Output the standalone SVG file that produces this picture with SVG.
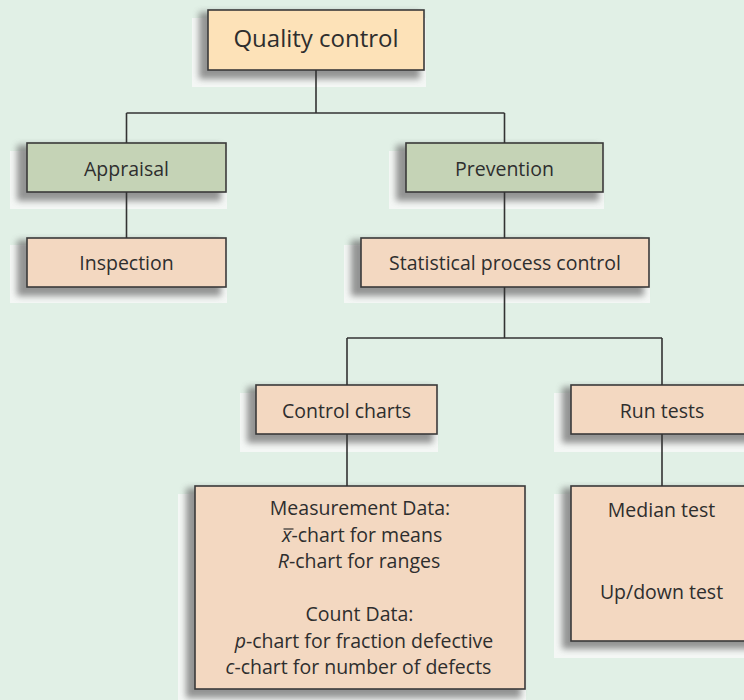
<svg xmlns="http://www.w3.org/2000/svg" width="744" height="700" viewBox="0 0 744 700">
  <defs>
    <filter id="blur" x="-20%" y="-20%" width="140%" height="140%">
      <feGaussianBlur stdDeviation="3.2"/>
    </filter>
    <style>
      .shl { fill: #f4f7f5; }
      .shd { fill: #6a6a6a; opacity: 0.7; }
      .box { stroke: #3a3a3a; stroke-width: 1.6; }
      .top { fill: #fde2b8; }
      .grn { fill: #c5d3b6; }
      .pch { fill: #f3d8c1; }
      text { font-family: "Open Sans", "Liberation Sans", sans-serif; fill: #2e2e2e; text-anchor: middle; font-size: 19.5px; }
      .big { font-size: 24px; }
      .st { text-anchor: start; }
      .it { font-style: italic; }
      .conn path { fill: none; stroke: #333; stroke-width: 1.6; }
    </style>
  </defs>
  <rect x="0" y="0" width="744" height="700" fill="#e1f0e6"/>

  <g id="quality-control">
    <rect class="shl" x="192" y="18" width="234" height="69"/>
    <rect class="shd" filter="url(#blur)" x="199" y="12" width="221" height="67"/>
    <rect class="box top" x="208" y="10" width="216" height="60"/>
    <text class="big" x="316" y="47">Quality control</text>
  </g>

  <g id="appraisal">
    <rect class="shl" x="10" y="151" width="217" height="58"/>
    <rect class="shd" filter="url(#blur)" x="17" y="145" width="204" height="56"/>
    <rect class="box grn" x="27" y="143" width="199" height="49"/>
    <text x="126.5" y="176">Appraisal</text>
  </g>

  <g id="prevention">
    <rect class="shl" x="389" y="151" width="215" height="58"/>
    <rect class="shd" filter="url(#blur)" x="396" y="145" width="203" height="56"/>
    <rect class="box grn" x="406" y="143" width="197" height="49"/>
    <text x="504.5" y="176">Prevention</text>
  </g>

  <g id="inspection">
    <rect class="shl" x="10" y="245" width="217" height="58"/>
    <rect class="shd" filter="url(#blur)" x="17" y="240" width="204" height="56"/>
    <rect class="box pch" x="27" y="238" width="199" height="49"/>
    <text x="126.5" y="270">Inspection</text>
  </g>

  <g id="statistical-process-control">
    <rect class="shl" x="344" y="245" width="306" height="58"/>
    <rect class="shd" filter="url(#blur)" x="351" y="240" width="293" height="56"/>
    <rect class="box pch" x="361" y="238" width="288" height="49"/>
    <text x="505" y="270">Statistical process control</text>
  </g>

  <g id="control-charts">
    <rect class="shl" x="240" y="393" width="198" height="59"/>
    <rect class="shd" filter="url(#blur)" x="247" y="387" width="186" height="56"/>
    <rect class="box pch" x="256" y="385" width="181" height="49"/>
    <text x="346.5" y="418">Control charts</text>
  </g>

  <g id="run-tests">
    <rect class="shl" x="554" y="393" width="210" height="59"/>
    <rect class="shd" filter="url(#blur)" x="562" y="387" width="201" height="56"/>
    <rect class="box pch" x="571" y="385" width="182" height="49"/>
    <text x="662" y="418">Run tests</text>
  </g>

  <g id="measurement">
    <rect class="shl" x="178" y="494" width="348" height="212"/>
    <rect class="shd" filter="url(#blur)" x="186" y="488" width="335" height="210"/>
    <rect class="box pch" x="195" y="486" width="330" height="203"/>
    <text x="360" y="515">Measurement Data:</text>
    <text class="st" x="282" y="541.5"><tspan class="it">x</tspan>-chart for means</text>
    <line x1="283.5" y1="529" x2="293.5" y2="529" stroke="#2e2e2e" stroke-width="1.2"/>
    <text x="359" y="568"><tspan class="it">R</tspan>-chart for ranges</text>
    <text x="359.5" y="621">Count Data:</text>
    <text x="364" y="647.5"><tspan class="it">p</tspan>-chart for fraction defective</text>
    <text x="358.5" y="674"><tspan class="it">c</tspan>-chart for number of defects</text>
  </g>

  <g id="median-updown">
    <rect class="shl" x="554" y="494" width="210" height="164"/>
    <rect class="shd" filter="url(#blur)" x="562" y="488" width="201" height="161"/>
    <rect class="box pch" x="571" y="486" width="182" height="155"/>
    <text x="661.5" y="517">Median test</text>
    <text x="661.5" y="599">Up/down test</text>
  </g>

  <g id="connectors" class="conn">
    <path d="M316 70 V113"/>
    <path d="M126.5 113 H504.5"/>
    <path d="M126.5 113 V143"/>
    <path d="M504.5 113 V143"/>
    <path d="M126.5 192 V238"/>
    <path d="M504.5 192 V238"/>
    <path d="M504.5 287 V338"/>
    <path d="M347 338 H662"/>
    <path d="M347 338 V385"/>
    <path d="M662 338 V385"/>
    <path d="M347 434 V486"/>
    <path d="M662 434 V486"/>
  </g>
</svg>
